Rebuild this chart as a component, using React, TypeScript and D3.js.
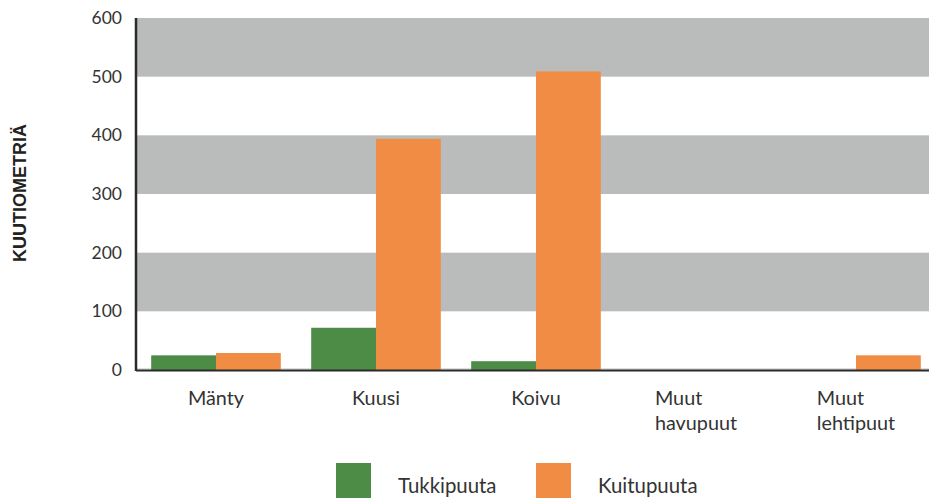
import React from "react";
import * as d3 from "d3";

const categories: string[][] = [["Mänty"], ["Kuusi"], ["Koivu"], ["Muut", "havupuut"], ["Muut", "lehtipuut"]];
const seriesNames = ["Tukkipuuta", "Kuitupuuta"];
const tukkipuuta = [25, 72, 15, 0, 0];
const kuitupuuta = [29, 394, 509, 0, 25];
const yTicks = [0, 100, 200, 300, 400, 500, 600];
const colors = ["#4d8c46", "#f18c45"];

const W = 929, H = 501;
const left = 136, top = 18, bottom = 370;
const FONT = "Lato, 'Open Sans', sans-serif";

function measure(t: string, size: number) {
  const c = document.createElement("canvas").getContext("2d")!;
  c.font = `${size}px Lato`;
  return c.measureText(t).width;
}

export default function App() {
  const x = d3.scaleBand<number>().domain(d3.range(categories.length)).range([left, left + 160 * 5]).paddingInner(0.19).paddingOuter(0.095);
  const x1 = d3.scaleBand<number>().domain([0, 1]).range([0, x.bandwidth()]);
  const y = d3.scaleLinear().domain([0, 600]).range([bottom, top]);
  const series = [tukkipuuta, kuitupuuta];
  const bands = [[100, 200], [300, 400], [500, 600]];
  return (
    <svg width={W} height={H} style={{ position: "absolute", left: 0, top: 0 }} fontFamily={FONT}>
      {bands.map(([a, b], i) => (
        <rect key={i} x={left} y={y(b)} width={W - left} height={y(a) - y(b)} fill="#babcbb" />
      ))}
      <line x1={left} x2={W} y1={bottom - 1} y2={bottom - 1} stroke="#babcbb" strokeWidth={1} />
      {series.map((s, si) =>
        s.map((v, i) => (
          <rect key={`${si}-${i}`} x={(x(i) as number) + (x1(si) as number)} y={y(v)} width={x1.bandwidth()} height={bottom - y(v)} fill={colors[si]} />
        ))
      )}
      <line x1={left} x2={left} y1={top} y2={bottom + 1} stroke="#2a2a2a" strokeWidth={2.5} />
      <line x1={left} x2={W} y1={bottom + 0.5} y2={bottom + 0.5} stroke="#2a2a2a" strokeWidth={2} />
      {yTicks.map((t) => (
        <text key={t} x={122} y={y(t)} dy="0.35em" textAnchor="end" fontSize={17.5} fill="#333">{t}</text>
      ))}
      <text transform={`translate(26,193) rotate(-90)`} textAnchor="middle" fontSize={18} fontWeight="bold" fill="#222" fontFamily="'Liberation Sans', Arial, sans-serif">KUUTIOMETRIÄ</text>
      {categories.map((lines, i) => {
        const cx = (x(i) as number) + x.bandwidth() / 2;
        const wmax = Math.max(...lines.map((l) => measure(l, 19.8)));
        const sx = lines.length > 1 ? cx - wmax / 2 : cx;
        return (
          <text key={i} x={sx} y={405} textAnchor={lines.length > 1 ? "start" : "middle"} fontSize={19.8} fill="#333">
            {lines.map((l, j) => (
              <tspan key={j} x={sx} dy={j === 0 ? 0 : 25}>{l}</tspan>
            ))}
          </text>
        );
      })}
      {seriesNames.map((n, i) => (
        <g key={n} transform={`translate(${336 + i * 200},463)`}>
          <rect width={35} height={35} fill={colors[i]} />
          <text x={62} y={30} fontSize={20.4} fill="#333">{n}</text>
        </g>
      ))}
    </svg>
  );
}
